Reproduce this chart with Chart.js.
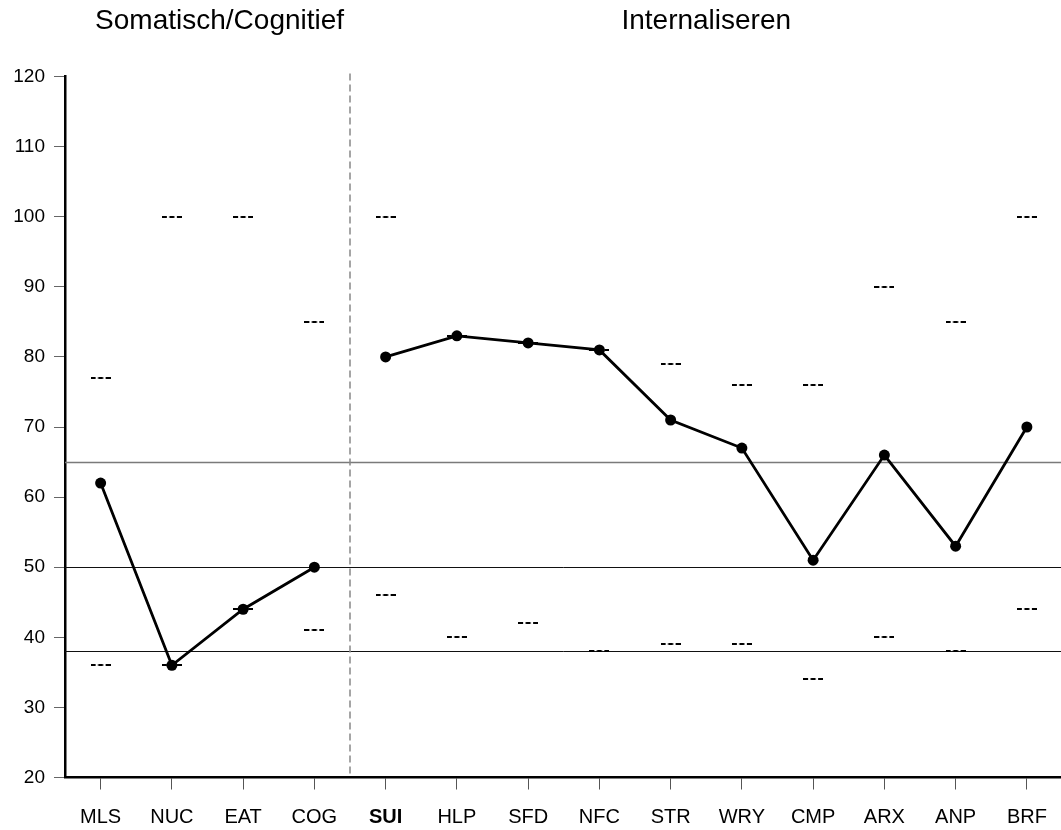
<!DOCTYPE html>
<html>
<head>
<meta charset="utf-8">
<script src="https://cdn.jsdelivr.net/npm/chart.js@4"></script>
<style>
html,body{margin:0;padding:0;background:#fff;overflow:hidden;}
#wrap{width:1068px;height:830px;position:relative;}
</style>
</head>
<body>
<div id="wrap"><canvas id="c"></canvas></div>
<script>
const categories = ['MLS','NUC','EAT','COG','SUI','HLP','SFD','NFC','STR','WRY','CMP','ARX','ANP','BRF'];
const scores     = [62, 36, 44, 50, 80, 83, 82, 81, 71, 67, 51, 66, 53, 70];
const upperMarks = [77, 100, 100, 85, 100, 83, 82, 81, 79, 76, 76, 90, 85, 100];
const lowerMarks = [36, 36, 44, 41, 46, 40, 42, 38, 39, 39, 34, 40, 38, 44];
const groupTitles = ['Somatisch/Cognitief', 'Internaliseren'];
const groupTitleCenters = [1.67, 8.5];   // in category units
const groupDivider = 3.5;                // between COG and SUI
const refLines = [65, 50, 38];
const yTicks = [20,30,40,50,60,70,80,90,100,110,120];

const FONT = '"Liberation Sans", Arial, Helvetica, sans-serif';

// dash marker "---"
const dash = document.createElement('canvas');
dash.width = 20; dash.height = 2;
(function(){
  const g = dash.getContext('2d');
  g.fillStyle = '#000';
  g.fillRect(0,0,5,2); g.fillRect(7.5,0,5,2); g.fillRect(15,0,5,2);
})();

const overlay = {
  id: 'overlay',
  beforeDatasetsDraw(chart) {
    const {ctx, chartArea: a, scales: {x, y}} = chart;
    ctx.save();
    refLines.forEach((v, i) => {
      const py = Math.round(y.getPixelForValue(v)) + 0.5;
      ctx.beginPath();
      ctx.strokeStyle = i === 0 ? '#7a7a7a' : '#111';
      ctx.lineWidth = i === 0 ? 1.5 : 1;
      ctx.moveTo(a.left, py); ctx.lineTo(a.right, py);
      ctx.stroke();
    });
    const px = x.getPixelForValue(groupDivider);
    ctx.beginPath();
    ctx.strokeStyle = '#888';
    ctx.lineWidth = 1.5;
    ctx.setLineDash([7, 4]);
    ctx.moveTo(px, a.top - 3); ctx.lineTo(px, a.bottom);
    ctx.stroke();
    ctx.restore();
  },
  afterDraw(chart) {
    const {ctx, scales: {x}} = chart;
    ctx.save();
    ctx.fillStyle = '#000';
    ctx.font = '28px ' + FONT;
    ctx.textAlign = 'center';
    ctx.textBaseline = 'alphabetic';
    groupTitles.forEach((t, i) => {
      ctx.fillText(t, x.getPixelForValue(groupTitleCenters[i]), 29);
    });
    ctx.restore();
  }
};

new Chart(document.getElementById('c'), {
  type: 'line',
  data: {
    labels: categories,
    datasets: [
      {
        data: scores,
        borderColor: '#000',
        backgroundColor: '#000',
        borderWidth: 2.8,
        pointRadius: 5.5,
        pointHoverRadius: 5.5,
        pointBackgroundColor: '#000',
        pointBorderWidth: 0,
        tension: 0,
        order: 0,
        segment: {
          borderColor: c => c.p0DataIndex === 3 ? 'rgba(0,0,0,0)' : '#000'
        }
      },
      {
        data: upperMarks,
        showLine: false,
        pointStyle: dash,
        order: 1
      },
      {
        data: lowerMarks,
        showLine: false,
        pointStyle: dash,
        order: 1
      }
    ]
  },
  options: {
    responsive: true,
    maintainAspectRatio: false,
    animation: false,
    events: [],
    layout: { padding: { top: 76.5, right: 1, left: 0, bottom: 0 } },
    plugins: { legend: { display: false }, tooltip: { enabled: false } },
    scales: {
      x: {
        type: 'category',
        offset: true,
        grid: { display: true, drawOnChartArea: false, drawTicks: true, tickLength: 12, color: '#555', lineWidth: 1, offset: false },
        border: { display: true, color: '#000', width: 2.5 },
        ticks: {
          color: '#000',
          padding: 16,
          autoSkip: false,
          maxRotation: 0,
          font: c => ({ family: FONT, size: 20, weight: c.index === 4 ? 'bold' : 'normal' })
        },
        afterFit: s => { s.height = 52.5; }
      },
      y: {
        min: 20, max: 120,
        afterBuildTicks: s => { s.ticks = yTicks.map(v => ({ value: v })); },
        grid: { display: true, drawOnChartArea: false, drawTicks: true, tickLength: 11, color: '#666', lineWidth: 1 },
        border: { display: true, color: '#000', width: 2.5 },
        ticks: { color: '#000', padding: 9, font: { family: FONT, size: 19 } },
        afterFit: s => { s.width = 65; }
      }
    }
  },
  plugins: [overlay]
});
</script>
</body>
</html>
